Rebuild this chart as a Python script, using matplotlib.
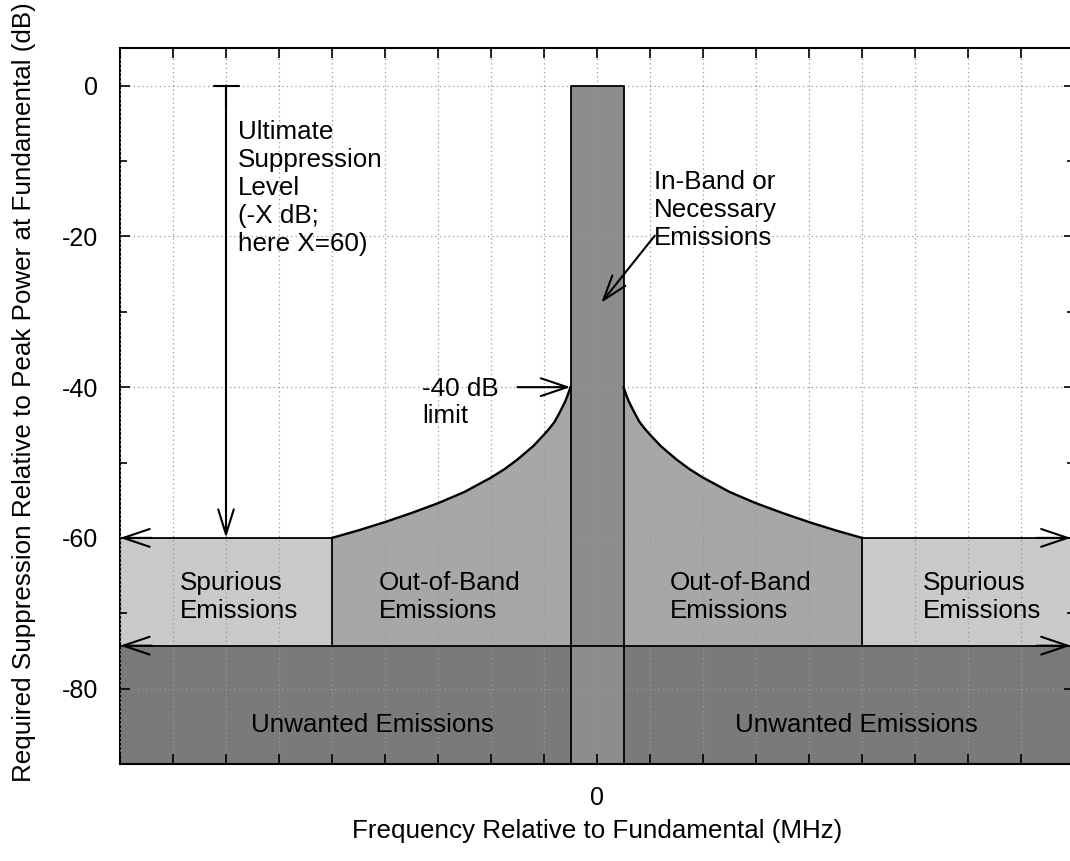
import numpy as np
import matplotlib
matplotlib.use("Agg")
import matplotlib.pyplot as plt
from matplotlib.ticker import MultipleLocator

plt.rcParams['font.family'] = ['Liberation Sans', 'DejaVu Sans']
plt.rcParams['axes.unicode_minus'] = False

# frequency units are grid steps, 0 = fundamental
x_lim = (-9, 9)
y_lim = (-90, 5)
band_half = 0.5            # half width of necessary band
oob_edge = 5               # end of out-of-band domain
limit_db = -40             # mask level at band edge
spur_db = -60              # ultimate suppression level
unwanted_db = -74.3        # top of "unwanted" floor

# out-of-band mask (distance from centre, dB)
mask_offset = [0.5, 0.55, 0.6, 0.7, 0.8, 0.9, 1.0, 1.2, 1.5, 1.75, 2.0, 2.5, 3.0, 3.5, 4.0, 4.5, 5.0]
mask_db = [-40, -41.0, -41.9, -43.3, -44.6, -45.5, -46.3, -47.8, -49.6, -50.9, -52.0,
           -53.9, -55.4, -56.7, -57.9, -59.0, -60]

c_spur = '#cacaca'
c_oob = '#a7a7a7'
c_band = '#8d8d8d'
c_unw = '#7a7a7a'
fs = 18.7

fig = plt.figure(figsize=(10.7, 8.61), dpi=100)
ax = fig.add_axes([120/1070, (861-764)/861, 954/1070, 716/861])
ax.set_xlim(*x_lim)
ax.set_ylim(*y_lim)

off = np.array(mask_offset)
lev = np.array(mask_db)

# unwanted floor
ax.fill_between(x_lim, y_lim[0], unwanted_db, color=c_unw, lw=0, zorder=1)
ax.plot(x_lim, [unwanted_db]*2, color='k', lw=1.3, zorder=3)
for s in (-1, 1):
    # spurious domains
    xs = [s*oob_edge, s*x_lim[1]]
    ax.fill_between(xs, unwanted_db, spur_db, color=c_spur, lw=0, zorder=1)
    ax.plot(xs, [spur_db]*2, color='k', lw=1.3, zorder=3)
    ax.plot([s*oob_edge]*2, [unwanted_db, spur_db], color='k', lw=1.3, zorder=3)
    # out-of-band
    ax.fill_between(s*off, unwanted_db, lev, color=c_oob, lw=0, zorder=1)
    ax.plot(s*off, lev, color='k', lw=1.7, zorder=3, solid_joinstyle='round')
# necessary band
ax.fill_between([-band_half, band_half], y_lim[0], 0, color=c_band, lw=0, zorder=1)
ax.plot([-band_half, -band_half, band_half, band_half], [y_lim[0], 0, 0, y_lim[0]],
        color='k', lw=1.3, zorder=3)

# grid on top of the fills
ax.set_axisbelow(False)
x_ticks = np.arange(x_lim[0], x_lim[1] + 1)
ax.set_xticks(x_ticks)
ax.set_xticklabels(['0' if t == 0 else '' for t in x_ticks])
ax.yaxis.set_major_locator(MultipleLocator(20))
ax.yaxis.set_minor_locator(MultipleLocator(10))
ax.grid(True, which='major', linestyle=(0, (1, 2.5)), color='#999999', lw=0.9, zorder=2)
ax.tick_params(which='both', direction='in', top=True, right=True, labelsize=18,
               width=1.2, color='k')
ax.tick_params(which='major', length=7)
ax.tick_params(which='minor', length=5)
ax.tick_params(axis='y', pad=16)
ax.tick_params(axis='x', pad=16)
for sp in ax.spines.values():
    sp.set_linewidth(1.5)

ax.set_xlabel('Frequency Relative to Fundamental (MHz)', fontsize=fs)
ax.xaxis.set_label_coords(0.5, -0.077)
ax.set_ylabel('Required Suppression Relative to Peak Power at Fundamental (dB)', fontsize=fs)
ax.yaxis.set_label_coords(-0.088, 0.52)

ah = dict(mutation_scale=20, color='k', lw=1.5, shrinkA=0, shrinkB=0)
head = '->,head_length=0.95,head_width=0.32'

# edge arrows at -60 and the unwanted floor
for yv in (spur_db, unwanted_db):
    ax.annotate('', xy=(x_lim[0], yv), xytext=(x_lim[0] + 0.6, yv),
                arrowprops=dict(arrowstyle=head, **ah), zorder=4)
    ax.annotate('', xy=(x_lim[1] - 0.06, yv), xytext=(x_lim[1] - 0.7, yv),
                arrowprops=dict(arrowstyle=head, **ah), zorder=4)

# ultimate suppression level arrow (bar at 0 dB, head at -60 dB)
ax.annotate('', xy=(-7, spur_db), xytext=(-7, 0),
            arrowprops=dict(arrowstyle='->,head_length=0.9,head_width=0.28', **ah), zorder=4)
ax.annotate('', xy=(-7, -3), xytext=(-7, 0),
            arrowprops=dict(arrowstyle=']-,widthA=0.45,lengthA=0', **ah), zorder=4)
ax.text(-6.77, -4.6, 'Ultimate\nSuppression\nLevel\n(-X dB;\nhere X=60)', fontsize=fs,
        ha='left', va='top', linespacing=1.2, zorder=5)

# -40 dB limit
ax.annotate('', xy=(-band_half, limit_db), xytext=(-1.5, limit_db),
            arrowprops=dict(arrowstyle=head, **ah), zorder=4)
ax.text(-3.3, -38.6, '-40 dB\nlimit', fontsize=fs, ha='left', va='top', linespacing=1.2, zorder=5)

# in-band label
ax.annotate('', xy=(0.08, -28.8), xytext=(1.09, -19.9),
            arrowprops=dict(arrowstyle='->,head_length=0.9,head_width=0.3', **ah), zorder=4)
ax.text(1.08, -11.2, 'In-Band or\nNecessary\nEmissions', fontsize=fs, ha='left', va='top',
        linespacing=1.2, zorder=5)

# region labels
ax.text(-7.87, -64.4, 'Spurious\nEmissions', fontsize=fs, ha='left', va='top', linespacing=1.2, zorder=5)
ax.text(6.15, -64.4, 'Spurious\nEmissions', fontsize=fs, ha='left', va='top', linespacing=1.2, zorder=5)
ax.text(-4.11, -64.4, 'Out-of-Band\nEmissions', fontsize=fs, ha='left', va='top', linespacing=1.2, zorder=5)
ax.text(1.38, -64.4, 'Out-of-Band\nEmissions', fontsize=fs, ha='left', va='top', linespacing=1.2, zorder=5)
ax.text(-6.53, -85.7, 'Unwanted Emissions', fontsize=fs, ha='left', va='baseline', zorder=5)
ax.text(2.6, -85.7, 'Unwanted Emissions', fontsize=fs, ha='left', va='baseline', zorder=5)

fig.savefig('out.png', dpi=100)
